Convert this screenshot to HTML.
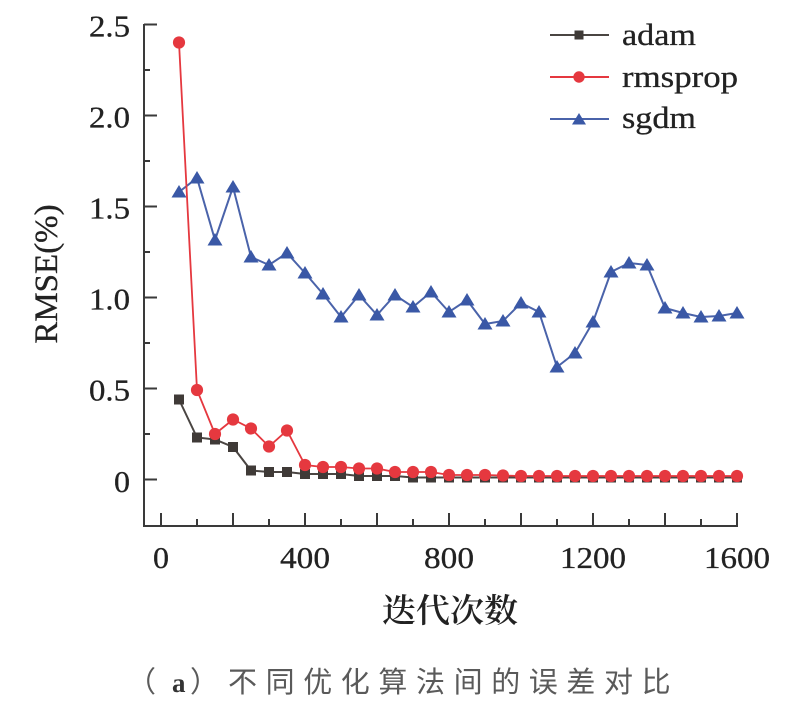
<!DOCTYPE html>
<html><head><meta charset="utf-8"><style>
html,body{margin:0;padding:0;background:#fff;}
svg{display:block;}
</style></head><body>
<svg width="809" height="724" viewBox="0 0 809 724" xmlns="http://www.w3.org/2000/svg">
<defs>
<marker id="sq" markerUnits="userSpaceOnUse" markerWidth="10" markerHeight="10" refX="5" refY="5" overflow="visible"><rect x="0" y="0" width="10" height="10" fill="#3f3a37"/></marker>
<marker id="ci" markerUnits="userSpaceOnUse" markerWidth="12" markerHeight="12" refX="6" refY="6" overflow="visible"><circle cx="6" cy="6" r="6.1" fill="#e5383f"/></marker>
<marker id="tr" markerUnits="userSpaceOnUse" markerWidth="14" markerHeight="12" refX="7" refY="6.5" overflow="visible"><polygon points="-0.5,12 14.5,12 7,-0.5" fill="#3a58a6"/></marker>
</defs>

<!-- axes -->
<g stroke="#3a3a3a" stroke-width="2" fill="none">
<line x1="144" y1="24" x2="144" y2="527"/>
<line x1="143" y1="526" x2="738" y2="526"/>
<line x1="144" y1="24.5" x2="157" y2="24.5"/>
<line x1="144" y1="115.5" x2="157" y2="115.5"/>
<line x1="144" y1="206.5" x2="157" y2="206.5"/>
<line x1="144" y1="297.5" x2="157" y2="297.5"/>
<line x1="144" y1="388.5" x2="157" y2="388.5"/>
<line x1="144" y1="479.5" x2="157" y2="479.5"/>
<line x1="144" y1="70" x2="150" y2="70"/>
<line x1="144" y1="161" x2="150" y2="161"/>
<line x1="144" y1="252" x2="150" y2="252"/>
<line x1="144" y1="343" x2="150" y2="343"/>
<line x1="144" y1="434" x2="150" y2="434"/>
<line x1="161" y1="526" x2="161" y2="513"/>
<line x1="233" y1="526" x2="233" y2="513"/>
<line x1="305" y1="526" x2="305" y2="513"/>
<line x1="377" y1="526" x2="377" y2="513"/>
<line x1="449" y1="526" x2="449" y2="513"/>
<line x1="521" y1="526" x2="521" y2="513"/>
<line x1="593" y1="526" x2="593" y2="513"/>
<line x1="665" y1="526" x2="665" y2="513"/>
<line x1="737" y1="526" x2="737" y2="513"/>
<line x1="197" y1="526" x2="197" y2="519"/>
<line x1="269" y1="526" x2="269" y2="519"/>
<line x1="341" y1="526" x2="341" y2="519"/>
<line x1="413" y1="526" x2="413" y2="519"/>
<line x1="485" y1="526" x2="485" y2="519"/>
<line x1="557" y1="526" x2="557" y2="519"/>
<line x1="629" y1="526" x2="629" y2="519"/>
<line x1="701" y1="526" x2="701" y2="519"/>
</g>

<!-- tick labels -->
<g font-family="'Liberation Serif', serif" font-size="31" fill="#222" stroke="#222" stroke-width="0.3">
<text x="130" y="36.5" text-anchor="end" textLength="41" lengthAdjust="spacingAndGlyphs">2.5</text>
<text x="130" y="127.5" text-anchor="end" textLength="41" lengthAdjust="spacingAndGlyphs">2.0</text>
<text x="130" y="218.5" text-anchor="end" textLength="41" lengthAdjust="spacingAndGlyphs">1.5</text>
<text x="130" y="309.5" text-anchor="end" textLength="41" lengthAdjust="spacingAndGlyphs">1.0</text>
<text x="130" y="400.5" text-anchor="end" textLength="41" lengthAdjust="spacingAndGlyphs">0.5</text>
<text x="130" y="492" text-anchor="end" textLength="16" lengthAdjust="spacingAndGlyphs">0</text>
<text x="161" y="568" text-anchor="middle" textLength="16" lengthAdjust="spacingAndGlyphs">0</text>
<text x="305" y="568" text-anchor="middle" textLength="50" lengthAdjust="spacingAndGlyphs">400</text>
<text x="449" y="568" text-anchor="middle" textLength="50" lengthAdjust="spacingAndGlyphs">800</text>
<text x="593" y="568" text-anchor="middle" textLength="66" lengthAdjust="spacingAndGlyphs">1200</text>
<text x="737" y="568" text-anchor="middle" textLength="66" lengthAdjust="spacingAndGlyphs">1600</text>
</g>

<!-- axis titles -->
<text transform="translate(57,274) rotate(-90)" text-anchor="middle" font-family="'Liberation Serif', serif" font-size="33" fill="#222" stroke="#222" stroke-width="0.3">RMSE(%)</text>
<text x="450" y="622" text-anchor="middle" font-family="'Liberation Serif','Noto Serif CJK SC',serif" font-size="33" font-weight="600" fill="#222" textLength="136" lengthAdjust="spacingAndGlyphs">迭代次数</text>

<!-- caption -->
<g font-family="'Liberation Sans','Noto Sans CJK SC',sans-serif" font-size="29" fill="#5a5a5a">
<text x="127" y="692">（</text>
<text x="172" y="692" font-family="'Liberation Serif',serif" font-weight="bold" fill="#333" font-size="27">a</text>
<text x="190" y="692">）</text>
<text x="228" y="692" letter-spacing="8.6">不同优化算法间的误差对比</text>
</g>

<!-- series -->
<polyline fill="none" stroke="#4a63aa" stroke-width="2" marker-start="url(#tr)" marker-mid="url(#tr)" marker-end="url(#tr)"
points="179,192 197,178 215,240 233,187 251,257 269,265 287,253 305,273 323,294 341,317 359,295 377,315 395,295 413,307 431,292 449,312 467,300 485,324 503,321 521,303 539,312 557,367 575,353 593,322 611,272 629,263 647,265 665,308 683,313 701,317 719,316 737,313"/>
<polyline fill="none" stroke="#4a4542" stroke-width="2" marker-start="url(#sq)" marker-mid="url(#sq)" marker-end="url(#sq)"
points="179,399.5 197,437.5 215,439.5 233,447 251,470.5 269,472 287,472 305,474 323,474 341,474 359,476 377,476 395,476 413,477.5 431,477.5 449,477.5 467,477.5 485,477.5 503,477.5 521,477.5 539,477.5 557,477.5 575,477.5 593,477.5 611,477.5 629,477.5 647,477.5 665,477.5 683,477.5 701,477.5 719,477.5 737,477.5"/>
<polyline fill="none" stroke="#e5383f" stroke-width="1.8" marker-start="url(#ci)" marker-mid="url(#ci)" marker-end="url(#ci)"
points="179,42.5 197,390 215,434 233,419.5 251,428.5 269,446.5 287,430.5 305,465 323,467 341,467 359,468.5 377,468.5 395,472 413,472 431,472 449,475 467,475 485,475 503,475.5 521,476 539,476 557,476 575,476 593,476 611,476 629,476 647,476 665,476 683,476 701,476 719,476 737,476"/>

<!-- legend -->
<line x1="550" y1="35" x2="609" y2="35" stroke="#4a4542" stroke-width="2"/>
<rect x="574.5" y="30.5" width="9" height="9" fill="#3f3a37"/>
<line x1="550" y1="77" x2="609" y2="77" stroke="#e5383f" stroke-width="2"/>
<circle cx="579" cy="77" r="5.7" fill="#e5383f"/>
<line x1="550" y1="119" x2="609" y2="119" stroke="#4a63aa" stroke-width="2"/>
<polygon points="572,124.5 586,124.5 579,113" fill="#3a58a6"/>
<g font-family="'Liberation Serif', serif" font-size="31" fill="#222" stroke="#222" stroke-width="0.3">
<text x="622" y="45" textLength="74" lengthAdjust="spacingAndGlyphs">adam</text>
<text x="622" y="87" textLength="116" lengthAdjust="spacingAndGlyphs">rmsprop</text>
<text x="622" y="128" textLength="74" lengthAdjust="spacingAndGlyphs">sgdm</text>
</g>
</svg>
</body></html>
